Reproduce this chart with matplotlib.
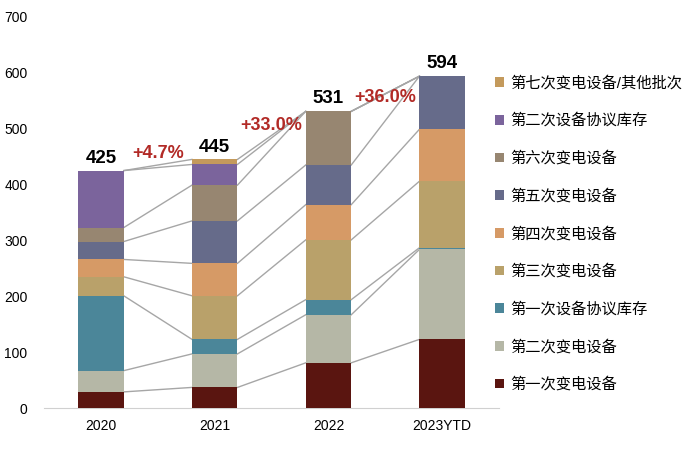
import numpy as np
import matplotlib.pyplot as plt

plt.rcParams['font.family'] = ['Liberation Sans', 'Noto Sans CJK SC', 'DejaVu Sans']

# 数据
years = ['2020', '2021', '2022', '2023YTD']
series_names = ['第一次变电设备', '第二次变电设备', '第一次设备协议库存', '第三次变电设备',
                '第四次变电设备', '第五次变电设备', '第六次变电设备', '第二次设备协议库存',
                '第七次变电设备/其他批次']
s1 = [29, 37, 81, 123]      # 第一次变电设备
s2 = [38, 60, 86, 161]      # 第二次变电设备
s3 = [134, 26, 27, 3]       # 第一次设备协议库存
s4 = [34, 78, 107, 119]     # 第三次变电设备
s5 = [31, 58, 63, 93]       # 第四次变电设备
s6 = [32, 76, 71, 95]       # 第五次变电设备
s7 = [25, 64, 96, 0]        # 第六次变电设备
s8 = [102, 37, 0, 0]        # 第二次设备协议库存
s9 = [0, 9, 0, 0]           # 第七次变电设备/其他批次
totals = [425, 445, 531, 594]
growth = ['+4.7%', '+33.0%', '+36.0%']
growth_y = [455, 505, 555]

colors = ['#5a1510', '#b5b7a6', '#4b8699', '#b9a16a', '#d69a66',
          '#666b8a', '#978671', '#7b649c', '#c49a5c']

data = np.array([s1, s2, s3, s4, s5, s6, s7, s8, s9], dtype=float)
x = np.arange(len(years))
w = 0.4

fig = plt.figure(figsize=(7, 4.57), dpi=100)
ax = fig.add_axes([0.063, 0.107, 0.65, 0.856])

bottom = np.zeros(len(years))
for vals, name, c in zip(data, series_names, colors):
    ax.bar(x, vals, w, bottom=bottom, color=c, label=name, zorder=3)
    bottom = bottom + vals

# 连接线 (series lines)
tops = np.cumsum(data, axis=0)
for row in tops:
    for i in range(len(years) - 1):
        ax.plot([x[i] + w / 2, x[i + 1] - w / 2], [row[i], row[i + 1]],
                color='#a6a6a6', lw=1, zorder=2)

for i, t in enumerate(totals):
    ax.text(x[i], t + 7, str(t), ha='center', va='bottom', fontsize=13.5,
            fontweight='bold', color='black')
for i, g in enumerate(growth):
    ax.text(x[i] + 0.5, growth_y[i], g, ha='center', va='center', fontsize=13,
            fontweight='bold', color='#b22a26')

ax.set_xlim(-0.5, 3.5)
ax.set_ylim(0, 700)
ax.set_yticks(range(0, 701, 100))
ax.set_xticks(x)
ax.set_xticklabels(years)
ax.tick_params(length=0, labelsize=10, pad=8)
ax.tick_params(axis='y', pad=12)
for s in ['top', 'right', 'left']:
    ax.spines[s].set_visible(False)
ax.spines['bottom'].set_color('#d0d0d0')

h, l = ax.get_legend_handles_labels()
ax.legend(h[::-1], l[::-1], loc='upper left', bbox_to_anchor=(0.96, 0.885),
          frameon=False, fontsize=11, handlelength=0.6, handleheight=0.6,
          handletextpad=0.4, labelspacing=1.5)

fig.savefig('out.png', dpi=100)
